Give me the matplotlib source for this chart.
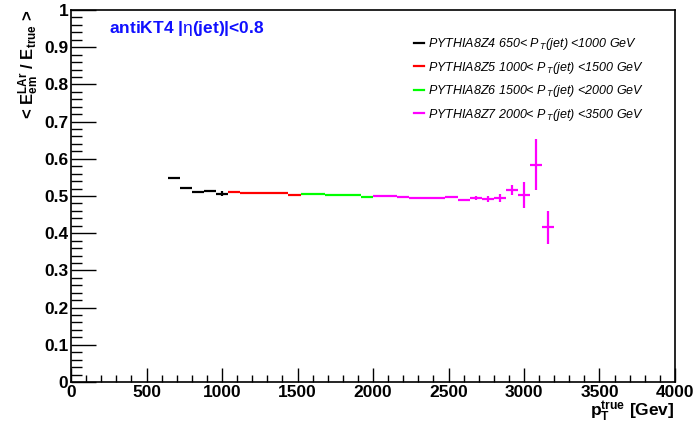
import numpy as np
import matplotlib
matplotlib.use("Agg")
import matplotlib.pyplot as plt
from matplotlib.lines import Line2D
from matplotlib.ticker import MultipleLocator

plt.rcParams['font.family'] = ['Liberation Sans', 'DejaVu Sans']
plt.rcParams['mathtext.fontset'] = 'custom'
plt.rcParams['mathtext.rm'] = 'Liberation Sans'
plt.rcParams['mathtext.it'] = 'Liberation Sans:italic'
plt.rcParams['mathtext.bf'] = 'Liberation Sans:bold'

# 80 GeV bins, one sample per pT slice
bin_half = 40

z4_x = [680, 760, 840, 920, 1000]
z4_y = [0.548, 0.521, 0.512, 0.513, 0.506]
z4_e = [0.002, 0.002, 0.002, 0.003, 0.007]

z5_x = [1080, 1160, 1240, 1320, 1400, 1480]
z5_y = [0.510, 0.509, 0.509, 0.507, 0.507, 0.503]
z5_e = [0.002, 0.002, 0.002, 0.002, 0.002, 0.002]

z6_x = [1560, 1640, 1720, 1800, 1880, 1960]
z6_y = [0.505, 0.505, 0.504, 0.504, 0.503, 0.497]
z6_e = [0.002, 0.002, 0.002, 0.002, 0.002, 0.002]

z7_x = [2040, 2120, 2200, 2280, 2360, 2440, 2520, 2600, 2680, 2760,
        2840, 2920, 3000, 3080, 3160]
z7_y = [0.500, 0.500, 0.497, 0.494, 0.495, 0.495, 0.497, 0.489, 0.495, 0.491,
        0.495, 0.516, 0.503, 0.584, 0.416]
z7_e = [0.002, 0.002, 0.002, 0.002, 0.002, 0.002, 0.002, 0.003, 0.005, 0.008,
        0.011, 0.014, 0.035, 0.069, 0.044]

samples = [
    (z4_x, z4_y, z4_e, 'black', r'PYTHIA8Z4 650< P$\,_{T}$(jet) <1000 GeV'),
    (z5_x, z5_y, z5_e, '#ff0000', r'PYTHIA8Z5 1000< P$\,_{T}$(jet) <1500 GeV'),
    (z6_x, z6_y, z6_e, '#00ff00', r'PYTHIA8Z6 1500< P$\,_{T}$(jet) <2000 GeV'),
    (z7_x, z7_y, z7_e, '#ff00ff', r'PYTHIA8Z7 2000< P$\,_{T}$(jet) <3500 GeV'),
]

fig = plt.figure(figsize=(6.95, 4.32), dpi=100)
ax = fig.add_axes([0.1022, 0.1157, 0.8690, 0.8612])

handles = []
for x, y, e, col, lab in samples:
    ax.errorbar(x, y, xerr=bin_half, yerr=e, fmt='none', ecolor=col,
                elinewidth=1.6, capsize=0)
    handles.append(Line2D([], [], color=col, lw=1.6, label=lab))

ax.set_xlim(0, 4000)
ax.set_ylim(0, 1)
ax.xaxis.set_major_locator(MultipleLocator(500))
ax.xaxis.set_minor_locator(MultipleLocator(100))
ax.yaxis.set_major_locator(MultipleLocator(0.1))
ax.yaxis.set_minor_locator(MultipleLocator(0.02))
ax.tick_params(which='both', direction='in', top=False, right=False,
               labelsize=12.5, width=1, pad=2)
ax.tick_params(axis='y', which='major', length=18)
ax.tick_params(axis='y', which='minor', length=8)
ax.tick_params(axis='x', which='major', length=10)
ax.tick_params(axis='x', which='minor', length=5)
ax.xaxis.set_major_formatter(plt.FuncFormatter(lambda v, p: f'{v:g}'))
ax.yaxis.set_major_formatter(plt.FuncFormatter(lambda v, p: f'{v:g}'))
for sp in ax.spines.values():
    sp.set_linewidth(1.2)

ax.set_xlabel(r'p$_{\mathbf{T}}^{\mathbf{true}}$ [Gev]', fontsize=12.5,
              fontweight='bold', loc='right', labelpad=0)
ax.set_ylabel(r'< E$_{\mathbf{em}}^{\mathbf{LAr}}$ / E$_{\mathbf{true}}$ >',
              fontsize=12, fontweight='bold', loc='top', labelpad=2)

ax.text(0.063, 0.95, r'antiKT4 |$\mathrm{\eta}$(jet)|<0.8', transform=ax.transAxes,
        color='#1010ff', fontsize=12.5, fontweight='bold', va='center')

leg = ax.legend(handles=handles, loc='upper left', bbox_to_anchor=(0.55, 0.96),
                frameon=False, handlelength=0.8, handletextpad=0.25,
                labelspacing=0.6, prop={'size': 9, 'style': 'italic'})

for lbl in ax.get_xticklabels() + ax.get_yticklabels():
    lbl.set_fontweight('bold')

fig.savefig('out.png', dpi=100)
